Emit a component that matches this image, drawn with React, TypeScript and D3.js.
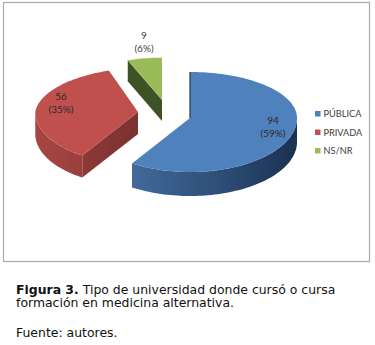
import React from 'react';
import * as d3 from 'd3';

const categories = ['PÚBLICA', 'PRIVADA', 'NS/NR'];
const counts = [94, 56, 9];
const percents = ['59%', '35%', '6%'];
const topColors = ['#4f81bd', '#c0504d', '#9bbb59'];

// where each slice's tip sits once exploded, and how far it recedes
const apexX = [190, 138, 162];
const apexY = [118, 112, 100];
const radiusFactor = [1, 0.96, 0.92];
const wallDepth = [24, 22, 21];
const backShear = [0, 0.16, 0];

const labelX = [273, 61, 144];
const labelY = [124, 100, 39];
const legendY = [113.5, 132, 150.5];

const captionLines = [
  { bold: 'Figura 3.', rest: ' Tipo de universidad donde cursó o cursa', y: 294 },
  { bold: '', rest: 'formación en medicina alternativa.', y: 307 },
  { bold: '', rest: 'Fuente: autores.', y: 337 },
];

const RX = 107;
const RY_BACK = 46;
const RY_FRONT = 54;

const slices = d3.pie<number>().sort(null).value((d) => d)(counts);
const line = d3.line();

// angle is clockwise from 12 o'clock; front half of the disc is drawn a bit larger
function project(i: number, angle: number): [number, number] {
  const dy = -Math.cos(angle);
  const ry = dy < 0 ? RY_BACK : RY_FRONT;
  const r = radiusFactor[i];
  const shear = dy < 0 ? -dy * ry * r * backShear[i] : 0;
  return [apexX[i] + Math.sin(angle) * RX * r + shear, apexY[i] + dy * ry * r];
}

function rimPoints(i: number, a0: number, a1: number): [number, number][] {
  const n = Math.max(2, Math.ceil((a1 - a0) / 0.03));
  return d3.range(n + 1).map((j) => project(i, a0 + ((a1 - a0) * j) / n));
}

function down(points: [number, number][], depth: number): [number, number][] {
  return points.map(([x, y]) => [x, y + depth] as [number, number]);
}

export default function App() {
  const order = [2, 1, 0];
  return (
    <svg
      width={375}
      height={345}
      style={{ position: 'absolute', left: 0, top: 0, background: '#fff' }}
    >
      <defs>
        <linearGradient id="wall0">
          <stop offset="0" stopColor="#42699a" />
          <stop offset="0.5" stopColor="#2e5079" />
          <stop offset="1" stopColor="#1a3150" />
        </linearGradient>
        <linearGradient id="wall1">
          <stop offset="0" stopColor="#a74644" />
          <stop offset="1" stopColor="#9a3f3d" />
        </linearGradient>
        <linearGradient id="cut1">
          <stop offset="0" stopColor="#8c3937" />
          <stop offset="1" stopColor="#7d3230" />
        </linearGradient>
      </defs>

      <rect x={3.5} y={2.5} width={366} height={259} fill="#fff" stroke="#ababab" strokeWidth={1.2} />

      {order.map((i) => {
        const s = slices[i];
        const top = [[apexX[i], apexY[i]] as [number, number], ...rimPoints(i, s.startAngle, s.endAngle)];
        const a0 = Math.max(s.startAngle, Math.PI / 2);
        const a1 = Math.min(s.endAngle, (3 * Math.PI) / 2);
        const rim = a1 > a0 ? rimPoints(i, a0, a1) : [];
        const edge: [number, number][] = [[apexX[i], apexY[i]], project(i, s.startAngle)];
        return (
          <g key={categories[i]}>
            {i > 0 && (
              <path
                d={line([...edge, ...down(edge, wallDepth[i]).reverse()]) + 'Z'}
                fill={i === 1 ? 'url(#cut1)' : '#3f5126'}
              />
            )}
            {rim.length > 0 && (
              <path
                d={line([...rim, ...down(rim, wallDepth[i]).reverse()]) + 'Z'}
                fill={`url(#wall${i})`}
              />
            )}
            <path d={line(top) + 'Z'} fill={topColors[i]} />
            {i === 0 && (
              <path
                d={line([[apexX[i], apexY[i]], project(i, s.startAngle)]) ?? ''}
                stroke="#1f3a5c"
                strokeWidth={1.2}
                fill="none"
              />
            )}
          </g>
        );
      })}

      <g fontFamily="Lato, 'Open Sans', sans-serif" fontSize={10} textAnchor="middle">
        {counts.map((c, i) => (
          <text key={c} x={labelX[i]} y={labelY[i]} fill={i < 2 ? '#2a2a2a' : '#404040'}>
            <tspan x={labelX[i]}>{c}</tspan>
            <tspan x={labelX[i]} dy={13}>({percents[i]})</tspan>
          </text>
        ))}
      </g>

      <g fontFamily="Lato, 'Open Sans', sans-serif" fontSize={9.2} fill="#404040">
        {categories.map((c, i) => (
          <g key={c}>
            <rect x={315} y={legendY[i] - 2.5} width={5.5} height={5.5} fill={topColors[i]} />
            <text x={323.5} y={legendY[i] + 3.5}>{c}</text>
          </g>
        ))}
      </g>

      <g fontFamily="'DejaVu Sans', Verdana, sans-serif" fontSize={12.45} fill="#111">
        {captionLines.map((l) => (
          <text key={l.rest} x={16} y={l.y} xmlSpace="preserve">
            {l.bold && <tspan fontWeight="bold">{l.bold}</tspan>}
            {l.rest}
          </text>
        ))}
      </g>
    </svg>
  );
}
